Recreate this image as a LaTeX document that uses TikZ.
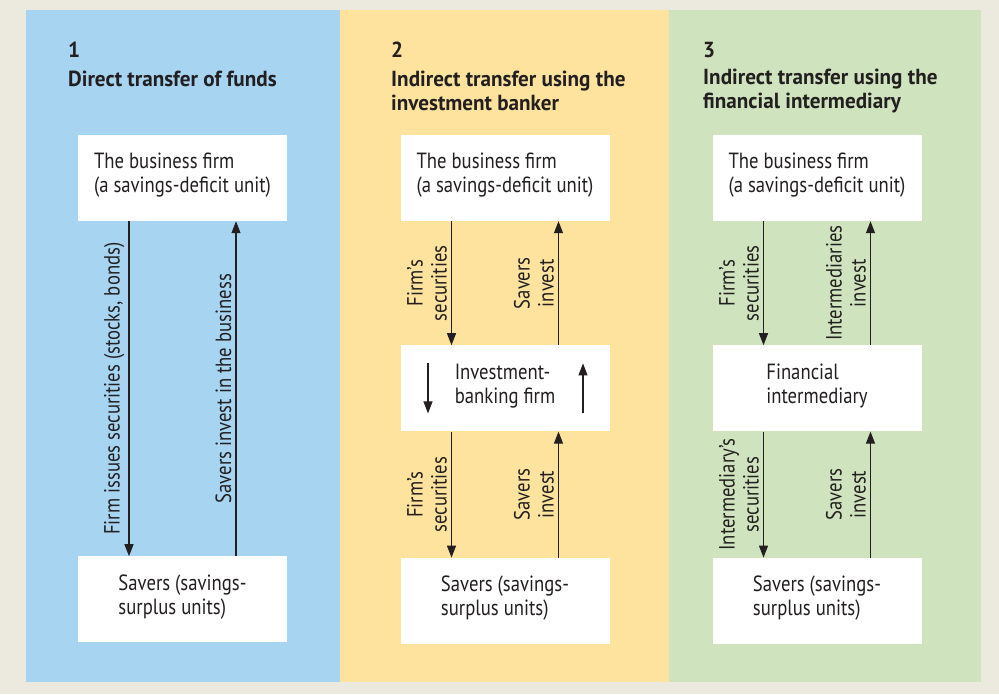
\documentclass[tikz,border=0pt]{standalone}
\usepackage{fontspec}
\setmainfont{PT Sans}[FakeStretch=0.85]
\newfontfamily\headfont{PT Sans}[FakeStretch=0.97]
\usetikzlibrary{positioning,arrows.meta}

\definecolor{pageback}{RGB}{236,234,222}
\definecolor{panelblue}{RGB}{166,212,241}
\definecolor{panelyellow}{RGB}{253,227,157}
\definecolor{panelgreen}{RGB}{207,228,190}
\definecolor{ink}{RGB}{35,31,32}

\newcommand{\boxlines}[1]{\raisebox{2pt}[\height][\depth]{\begin{tabular}{@{}l@{}}#1\end{tabular}}}

\begin{document}
\begin{tikzpicture}[x=1pt,y=1pt,
  every node/.style={text=ink,font=\fontsize{22}{24}\selectfont},
  box/.style={fill=white,minimum width=209pt,minimum height=86pt,inner sep=0pt},
  flow/.style={draw=ink,line width=1.1pt,-{Triangle[length=12pt,width=9pt]}},
  side/.style={rotate=90,anchor=south,align=center,inner sep=4pt},
  heading/.style={font=\fontsize{21.8}{24}\selectfont\headfont\bfseries,anchor=west,align=left,inner sep=0pt}]

  % page and the three panels
  \fill[pageback] (0,0) rectangle (999,-694);
  \fill[panelblue] (26,-10) rectangle (340,-682);
  \fill[panelyellow] (340,-10) rectangle (669,-682);
  \fill[panelgreen] (669,-10) rectangle (981,-682);

  % headings
  \node[heading] (num1) at (68,-50) {1};
  \node[heading,below=29pt of num1.west,anchor=west] (head1) {Direct transfer of funds};
  \node[heading] (num2) at (391,-50) {2};
  \node[heading,below=41pt of num2.west,anchor=west] (head2) {Indirect transfer using the\\investment banker};
  \node[heading] (num3) at (703,-50) {3};
  \node[heading,below=41pt of num3.west,anchor=west] (head3) {Indirect transfer using the\\financial intermediary};

  % panel 1
  \node[box] (firm1) at (182.5,-178) {\boxlines{The business firm\\(a savings-deficit unit)}};
  \node[box,below=335pt of firm1] (savers1) {\boxlines{Savers (savings-\\surplus units)}};

  \draw[flow] ([xshift=-53.5pt]firm1.south) -- node[side] {Firm issues securities (stocks, bonds)} ([xshift=-53.5pt]savers1.north);
  \draw[flow] ([xshift=53.5pt]savers1.north) -- node[side] {Savers invest in the business} ([xshift=53.5pt]firm1.south);

  % panel 2
  \node[box] (firm2) at (505,-178) {\boxlines{The business firm\\(a savings-deficit unit)}};
  \node[box,below=124pt of firm2] (bank2) {\boxlines{Investment-\\banking firm}};
  \node[box,below=126pt of bank2] (savers2) {\boxlines{Savers (savings-\\surplus units)}};

  \draw[flow] ([xshift=-53.5pt]firm2.south) -- node[side] {Firm's\\securities} ([xshift=-53.5pt]bank2.north);
  \draw[flow] ([xshift=53.5pt]bank2.north) -- node[side] {Savers\\invest} ([xshift=53.5pt]firm2.south);
  \draw[flow] ([xshift=-53.5pt]bank2.south) -- node[side] {Firm's\\securities} ([xshift=-53.5pt]savers2.north);
  \draw[flow] ([xshift=53.5pt]savers2.north) -- node[side] {Savers\\invest} ([xshift=53.5pt]bank2.south);
  \draw[flow] ([shift={(-77pt,25pt)}]bank2.center) -- ([shift={(-77pt,-25pt)}]bank2.center);
  \draw[flow] ([shift={(78pt,-25pt)}]bank2.center) -- ([shift={(78pt,25pt)}]bank2.center);

  % panel 3
  \node[box] (firm3) at (817,-178) {\boxlines{The business firm\\(a savings-deficit unit)}};
  \node[box,below=124pt of firm3] (inter3) {\boxlines{Financial\\intermediary}};
  \node[box,below=126pt of inter3] (savers3) {\boxlines{Savers (savings-\\surplus units)}};

  \draw[flow] ([xshift=-53.5pt]firm3.south) -- node[side] {Firm's\\securities} ([xshift=-53.5pt]inter3.north);
  \draw[flow] ([xshift=53.5pt]inter3.north) -- node[side] {Intermediaries\\invest} ([xshift=53.5pt]firm3.south);
  \draw[flow] ([xshift=-53.5pt]inter3.south) -- node[side] {Intermediary's\\securities} ([xshift=-53.5pt]savers3.north);
  \draw[flow] ([xshift=53.5pt]savers3.north) -- node[side] {Savers\\invest} ([xshift=53.5pt]inter3.south);
\end{tikzpicture}
\end{document}
